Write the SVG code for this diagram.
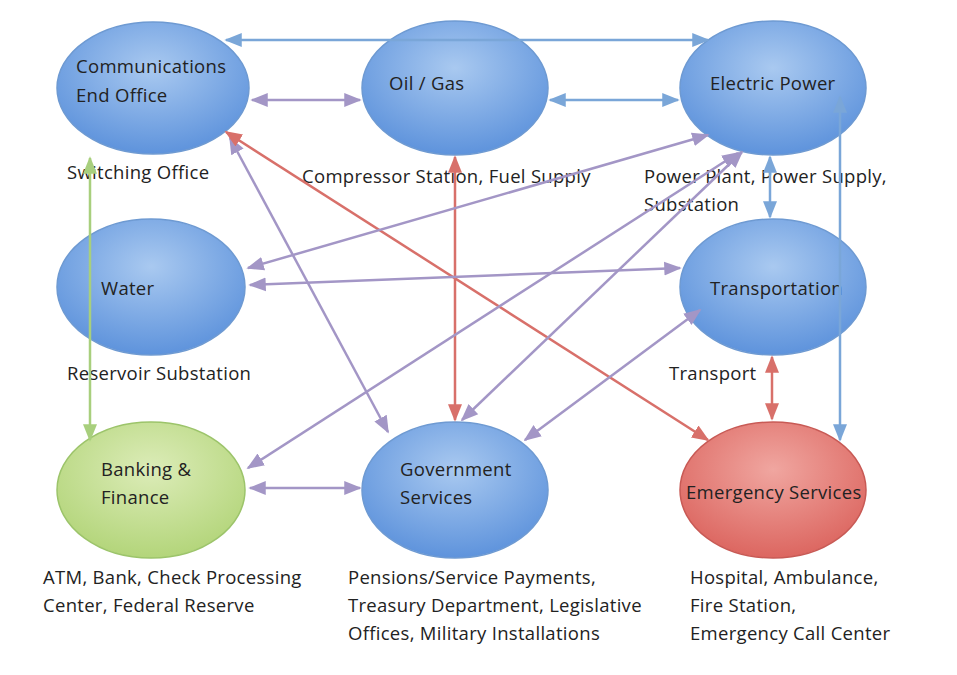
<svg xmlns="http://www.w3.org/2000/svg" width="957" height="675" viewBox="0 0 957 675">
<defs>
<radialGradient id="gb" cx="50%" cy="35%" r="65%"><stop offset="0" stop-color="#a9c9f0"/><stop offset="1" stop-color="#5e93dc"/></radialGradient>
<radialGradient id="gg" cx="50%" cy="35%" r="65%"><stop offset="0" stop-color="#dcecb8"/><stop offset="1" stop-color="#b3d57a"/></radialGradient>
<radialGradient id="gr" cx="50%" cy="35%" r="65%"><stop offset="0" stop-color="#f0a6a0"/><stop offset="1" stop-color="#dc6660"/></radialGradient>
<marker id="ab" viewBox="0 0 10 10" refX="9" refY="5" markerWidth="7" markerHeight="7" orient="auto-start-reverse"><path d="M0,1 L10,5 L0,9 z" fill="#7aa6d8"/></marker>
<marker id="ap" viewBox="0 0 10 10" refX="9" refY="5" markerWidth="7" markerHeight="7" orient="auto-start-reverse"><path d="M0,1 L10,5 L0,9 z" fill="#a396c6"/></marker>
<marker id="ar" viewBox="0 0 10 10" refX="9" refY="5" markerWidth="7" markerHeight="7" orient="auto-start-reverse"><path d="M0,1 L10,5 L0,9 z" fill="#d8706a"/></marker>
<marker id="ag" viewBox="0 0 10 10" refX="9" refY="5" markerWidth="7" markerHeight="7" orient="auto-start-reverse"><path d="M0,1 L10,5 L0,9 z" fill="#a8cf7d"/></marker>
</defs>
<style>
text{font-family:"Open Sans","Liberation Sans",sans-serif;font-size:18.5px;letter-spacing:0.3px;fill:#222}
.n{stroke:#6e9ad2;stroke-width:1.5}
.b{stroke:#7aa6d8;stroke-width:2.5;fill:none;marker-start:url(#ab);marker-end:url(#ab)}
.p{stroke:#a396c6;stroke-width:2.5;fill:none;marker-start:url(#ap);marker-end:url(#ap)}
.r{stroke:#d8706a;stroke-width:2.5;fill:none;marker-start:url(#ar);marker-end:url(#ar)}
.g{stroke:#a8cf7d;stroke-width:2.5;fill:none;marker-start:url(#ag);marker-end:url(#ag)}
</style>
<rect width="957" height="675" fill="#fff"/>
<g id="comm"><ellipse class="n" cx="153" cy="88" rx="96" ry="66" fill="url(#gb)"/><text x="76" y="73">Communications</text><text x="76" y="102">End Office</text><text x="67" y="179">Switching Office</text></g>
<g id="oil"><ellipse class="n" cx="455" cy="88" rx="93" ry="67" fill="url(#gb)"/><text x="389" y="90">Oil / Gas</text><text x="302" y="183">Compressor Station, Fuel Supply</text></g>
<g id="elec"><ellipse class="n" cx="773" cy="88" rx="93" ry="67" fill="url(#gb)"/><text x="710" y="90">Electric Power</text><text x="644" y="183">Power Plant, Power Supply,</text><text x="644" y="211">Substation</text></g>
<g id="water"><ellipse class="n" cx="151" cy="287" rx="94" ry="68" fill="url(#gb)"/><text x="101" y="295">Water</text><text x="67" y="380">Reservoir Substation</text></g>
<g id="trans"><ellipse class="n" cx="773" cy="287" rx="93" ry="68" fill="url(#gb)"/><text x="710" y="295">Transportation</text><text x="669" y="380">Transport</text></g>
<g id="bank"><ellipse cx="151" cy="490" rx="94" ry="68" fill="url(#gg)" stroke="#9cc46a" stroke-width="1.5"/><text x="101" y="476">Banking &amp;</text><text x="101" y="504">Finance</text><text x="43" y="584">ATM, Bank, Check Processing</text><text x="43" y="612">Center, Federal Reserve</text></g>
<g id="gov"><ellipse class="n" cx="455" cy="490" rx="93" ry="68" fill="url(#gb)"/><text x="400" y="476">Government</text><text x="400" y="504">Services</text><text x="348" y="584">Pensions/Service Payments,</text><text x="348" y="612">Treasury Department, Legislative</text><text x="348" y="640">Offices, Military Installations</text></g>
<g id="emerg"><ellipse cx="773" cy="490" rx="93" ry="68" fill="url(#gr)" stroke="#c85a55" stroke-width="1.5"/><text x="686" y="499">Emergency Services</text><text x="690" y="584">Hospital, Ambulance,</text><text x="690" y="612">Fire Station,</text><text x="690" y="640">Emergency Call Center</text></g>
<g id="connectors">
<line class="b" x1="226" y1="40" x2="708" y2="40"/>
<line class="p" x1="252" y1="100" x2="360" y2="100"/>
<line class="b" x1="550" y1="100" x2="678" y2="100"/>
<line class="g" x1="90" y1="158" x2="90" y2="440"/>
<line class="p" x1="230" y1="138" x2="388" y2="432"/>
<line class="r" x1="226" y1="132" x2="708" y2="440"/>
<line class="r" x1="455" y1="157" x2="455" y2="420"/>
<line class="p" x1="708" y1="135" x2="248" y2="268"/>
<line class="p" x1="738" y1="153" x2="248" y2="468"/>
<line class="p" x1="742" y1="152" x2="462" y2="420"/>
<line class="b" x1="770" y1="157" x2="770" y2="217"/>
<line class="b" x1="840" y1="97" x2="840" y2="440"/>
<line class="p" x1="250" y1="285" x2="680" y2="268"/>
<line class="p" x1="700" y1="310" x2="525" y2="440"/>
<line class="r" x1="772" y1="357" x2="772" y2="419"/>
<line class="p" x1="250" y1="488" x2="360" y2="488"/>
</g>
</svg>
